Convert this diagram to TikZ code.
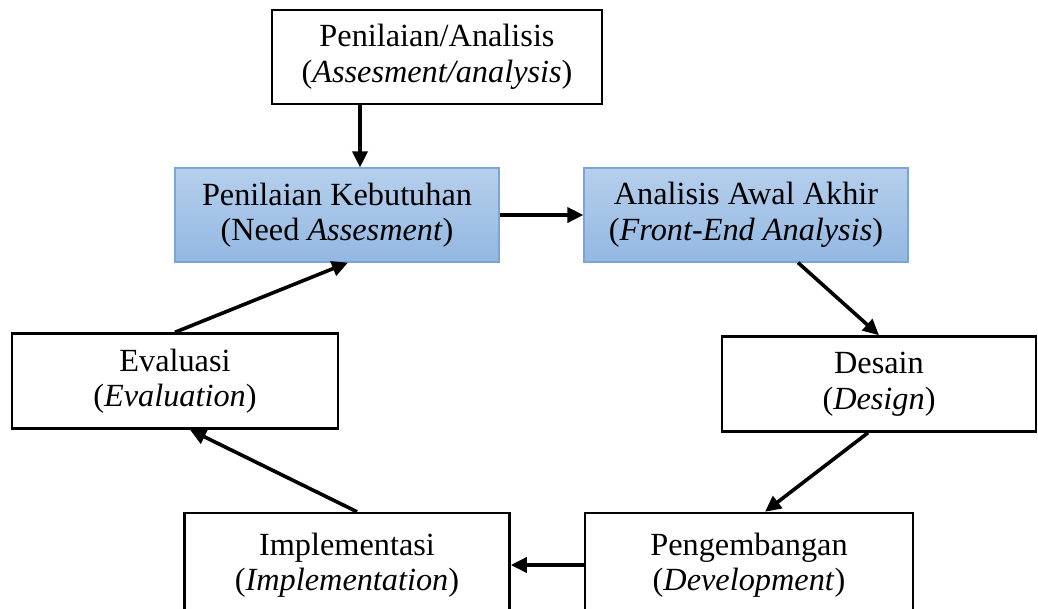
\documentclass[tikz,border=0pt]{standalone}
\usepackage{fontspec}
\setmainfont{Liberation Serif}
\usetikzlibrary{arrows.meta,calc}
\definecolor{boxtop}{HTML}{B6CFEC}
\definecolor{boxbot}{HTML}{93B8E2}
\definecolor{boxline}{HTML}{7BA4D9}
\tikzset{
  stage/.style={draw=black, line width=2.5pt, fill=white, align=center,
    inner sep=0pt, font=\fontsize{32.3}{35.5}\selectfont,
    execute at begin node={\rule{0pt}{36pt}}},
  keystage/.style={stage, draw=boxline, line width=1.2pt,
    top color=boxtop, bottom color=boxbot},
  flow/.style={line width=3.6pt, -{Triangle[length=16pt,width=15pt]}},
}
\begin{document}
\begin{tikzpicture}[x=1pt,y=-1pt]
\useasboundingbox (0,0) rectangle (1038,608);
% stages of the cycle
\node[stage, minimum width=330pt, minimum height=94pt] (top) at (437,57)
  {Penilaian/Analisis\\(\textit{Assesment/analysis})};
\node[keystage, minimum width=324pt, minimum height=94pt] (need) at (337,215)
  {Penilaian Kebutuhan\\(Need \textit{Assesment})};
\node[keystage, minimum width=324pt, minimum height=94pt] (fea) at (746,215)
  {Analisis Awal Akhir\\(\textit{Front-End Analysis})};
\node[stage, minimum width=326pt, minimum height=95pt] (eval) at (175,381)
  {Evaluasi\\(\textit{Evaluation})};
\node[stage, minimum width=314pt, minimum height=95pt] (des) at (879,384)
  {Desain\\(\textit{Design})};
\node[stage, minimum width=325pt, minimum height=104pt] (impl) at (347,565)
  {Implementasi\\(\textit{Implementation})};
\node[stage, minimum width=328pt, minimum height=104pt] (dev) at (749,565)
  {Pengembangan\\(\textit{Development})};
% connectors
\coordinate (ax) at (360,0);
\draw[flow] (top.south -| ax) -- (need.north -| ax);
\draw[flow] (need.east) -- (fea.west);
\draw[flow] ([xshift=52pt]fea.south) -- (des.north);
\draw[flow] ([xshift=-11pt]des.south) -- ([xshift=16pt]dev.north);
\draw[flow] (dev.west) -- (impl.east);
\draw[flow] ([xshift=10pt]impl.north) -- ([xshift=15pt]eval.south);
\draw[flow] (eval.north) -- ([xshift=11pt]need.south);
\end{tikzpicture}
\end{document}
